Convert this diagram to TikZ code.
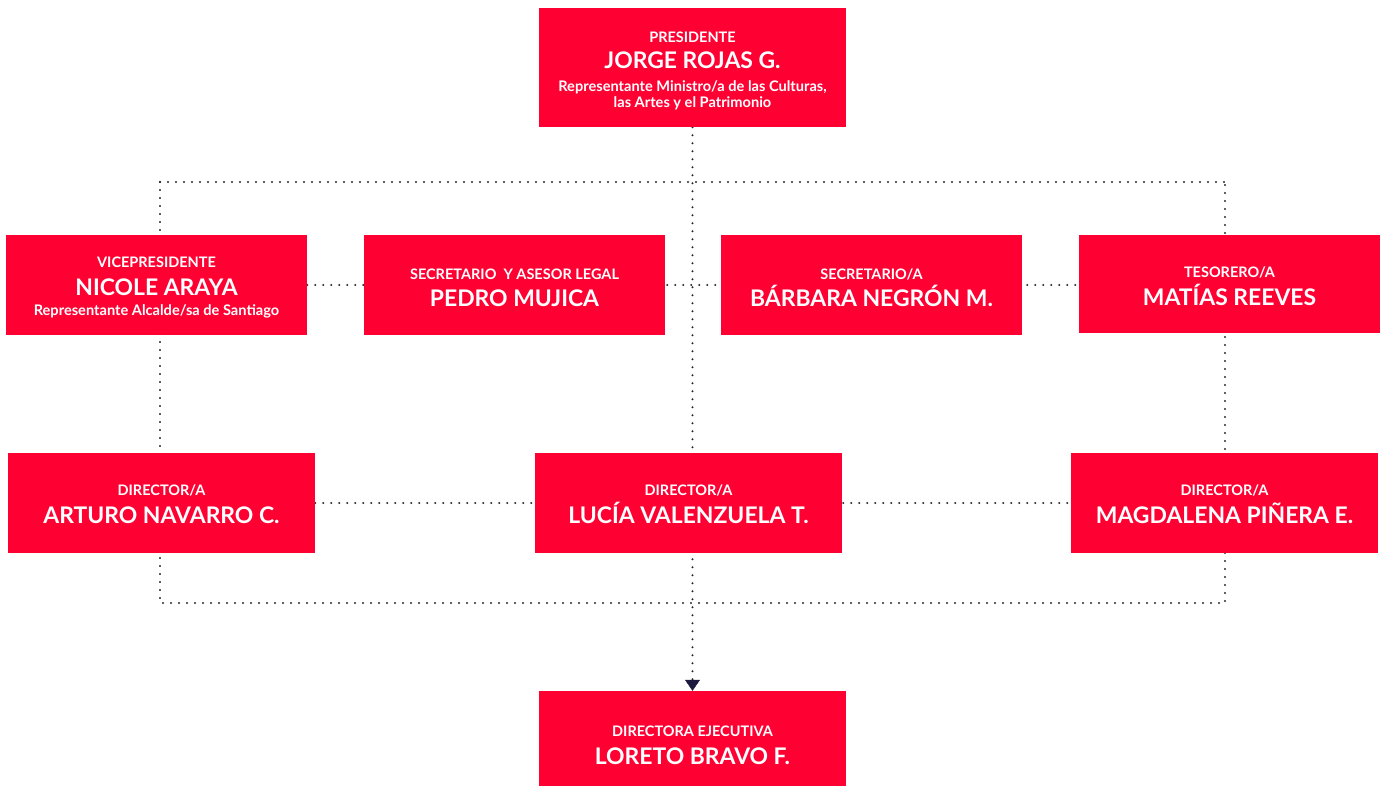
\documentclass[tikz,border=0pt]{standalone}
\usepackage{fontspec}
\setmainfont{Lato}
\usetikzlibrary{arrows.meta,backgrounds}
\definecolor{boxred}{HTML}{FF0033}
\definecolor{dotgray}{HTML}{2A2A2A}
\definecolor{tipnavy}{HTML}{1C1A3E}
\tikzset{
  box/.style={fill=boxred, draw=none, inner sep=0pt},
  small/.style={text=white, anchor=base, inner sep=0pt, font=\fontsize{14.5}{16}\selectfont\bfseries},
  big/.style={text=white, anchor=base, inner sep=0pt, font=\fontsize{22.9}{26}\selectfont\bfseries},
  sub/.style={text=white, anchor=base, inner sep=0pt, font=\fontsize{14.6}{16}\selectfont\bfseries},
  dots/.style={draw=dotgray, line width=2.3pt, line cap=round, dash pattern=on 0pt off 8pt},
}
\begin{document}
\begin{tikzpicture}[x=1pt,y=-1pt]
\useasboundingbox (0,0) rectangle (1382,787);
% boxes
\node[box, minimum width=307pt, minimum height=119pt] (pres) at (692.5,67.5) {};
\node[box, minimum width=301pt, minimum height=100pt] (vice) at (156.5,285) {};
\node[box, minimum width=301pt, minimum height=100pt] (seca) at (514.5,285) {};
\node[box, minimum width=301pt, minimum height=100pt] (secb) at (871.5,285) {};
\node[box, minimum width=301pt, minimum height=98pt] (teso) at (1229.5,284) {};
\node[box, minimum width=307pt, minimum height=100pt] (dira) at (161.5,503) {};
\node[box, minimum width=307pt, minimum height=100pt] (dirb) at (688.5,503) {};
\node[box, minimum width=307pt, minimum height=100pt] (dirc) at (1224.5,503) {};
\node[box, minimum width=307pt, minimum height=95pt] (lor) at (692.5,738.5) {};
% connector points
\coordinate (tl) at (160,182);
\coordinate (tr) at (1225,182);
\coordinate (bl) at (160,603);
\coordinate (br) at (1225,603);
\begin{pgfonlayer}{background}
\draw[dots] (tl) -- (tr);
\draw[dots] (tl) -- (bl) -- (br) -- (tr);
\draw[dots] (vice.east) -- (teso.west |- vice.east);
\draw[dots] (dira.east) -- (dirc.west);
\draw[dots, -{Triangle[width=15pt,length=11pt,line width=0.4pt,color=tipnavy]}] (pres.south) -- (lor.north);
\end{pgfonlayer}
% texts
\node[small] (t1a) at (692.5,42) {PRESIDENTE};
\node[big] (t1b) at (692.5,68) {JORGE ROJAS G.};
\node[sub] (t1c) at (692.5,91) {Representante Ministro/a de las Culturas,};
\node[sub] (t1d) at (692.5,107) {las Artes y el Patrimonio};
\node[small] (t2a) at (156.5,267) {VICEPRESIDENTE};
\node[big] (t2b) at (156.5,295) {NICOLE ARAYA};
\node[sub] (t2c) at (156.5,315) {Representante Alcalde/sa de Santiago};
\node[small] (t3a) at (514.5,279) {SECRETARIO \ Y ASESOR LEGAL};
\node[big] (t3b) at (514.5,306) {PEDRO MUJICA};
\node[small] (t4a) at (871.5,279) {SECRETARIO/A};
\node[big] (t4b) at (871.5,306) {BÁRBARA NEGRÓN M.};
\node[small] (t5a) at (1229.5,277) {TESORERO/A};
\node[big] (t5b) at (1229.5,305) {MATÍAS REEVES};
\node[small] (t6a) at (161.5,495) {DIRECTOR/A};
\node[big] (t6b) at (161.5,523) {ARTURO NAVARRO C.};
\node[small] (t7a) at (688.5,495) {DIRECTOR/A};
\node[big] (t7b) at (688.5,523) {LUCÍA VALENZUELA T.};
\node[small] (t8a) at (1224.5,495) {DIRECTOR/A};
\node[big] (t8b) at (1224.5,523) {MAGDALENA PIÑERA E.};
\node[small] (t9a) at (692.5,736) {DIRECTORA EJECUTIVA};
\node[big] (t9b) at (692.5,764) {LORETO BRAVO F.};
\end{tikzpicture}
\end{document}
